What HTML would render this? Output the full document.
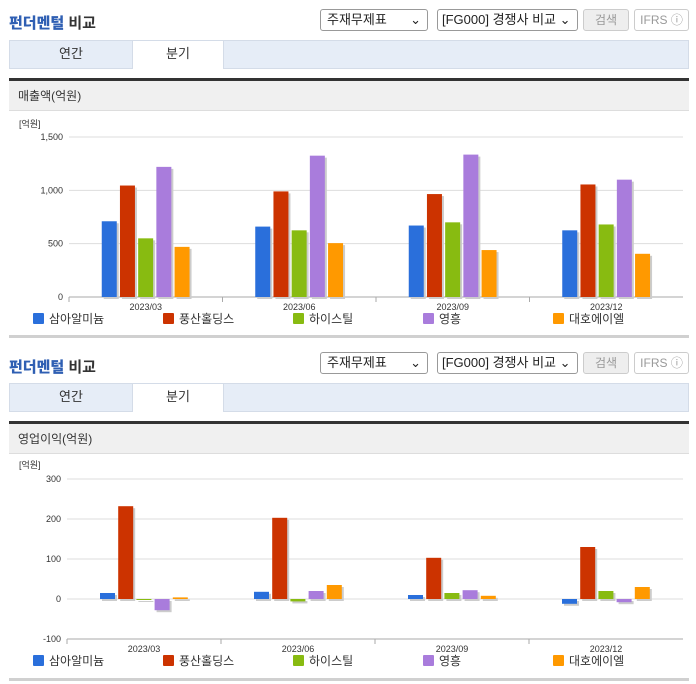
<!DOCTYPE html>
<html><head><meta charset="utf-8"><style>
body{margin:0;width:696px;height:684px;background:#fff;font-family:"Liberation Sans","Noto Sans CJK KR",sans-serif;position:relative;overflow:hidden}
.abs{position:absolute}
.title{left:9px;font-size:15px;color:#333;font-weight:bold}
.title b{color:#2f5fb3}
.sel{height:22px;border:1px solid #999;border-radius:3px;font-size:13px;color:#222;background:#fff;box-sizing:border-box;padding:2px 6px;line-height:16px}
.btn{height:22px;border:1px solid #ccc;border-radius:3px;font-size:12px;color:#999;background:#eee;box-sizing:border-box;text-align:center;line-height:20px}
.tabs{left:9px;width:680px;height:29px;background:#e6edf7;border:1px solid #d4dce8;box-sizing:border-box}
.tab{top:0;height:28px;font-size:13px;color:#333;text-align:center;line-height:26px}
.dark{left:9px;width:680px;height:3px;background:#333}
.hdr{left:9px;width:680px;height:30px;background:#f0f0f0;border-bottom:1px solid #ddd;font-size:12px;color:#333;line-height:30px;padding-left:9px;box-sizing:border-box}
.bottom{left:9px;width:680px;height:3px;background:#d0d0d0}
</style></head><body>
<div>
<div class="abs title" style="top:12px"><b>펀더멘털</b> 비교</div>
<div class="abs sel" style="left:320px;top:9px;width:108px">주재무제표 <span style="float:right">⌄</span></div>
<div class="abs sel" style="left:437px;top:9px;width:141px;padding:2px 4px">[FG000] 경쟁사 비교 ⌄</div>
<div class="abs btn" style="left:583px;top:9px;width:46px">검색</div>
<div class="abs btn" style="left:634px;top:9px;width:55px;background:#fff">IFRS ⓘ</div>
<div class="abs tabs" style="top:40px">
<div class="abs tab" style="left:0;width:122px">연간</div>
<div class="abs tab" style="left:122px;width:90px;background:#fff;border-left:1px solid #d4dce8;border-right:1px solid #d4dce8">분기</div>
</div>
<div class="abs dark" style="top:78px"></div>
<div class="abs hdr" style="top:81px">매출액(억원)</div>
<svg class="abs" id="c1" style="left:0;top:0" width="696" height="684"></svg>
<div class="abs bottom" style="top:335px"></div>
</div>
<div>
<div class="abs title" style="top:356px"><b>펀더멘털</b> 비교</div>
<div class="abs sel" style="left:320px;top:352px;width:108px">주재무제표 <span style="float:right">⌄</span></div>
<div class="abs sel" style="left:437px;top:352px;width:141px;padding:2px 4px">[FG000] 경쟁사 비교 ⌄</div>
<div class="abs btn" style="left:583px;top:352px;width:46px">검색</div>
<div class="abs btn" style="left:634px;top:352px;width:55px;background:#fff">IFRS ⓘ</div>
<div class="abs tabs" style="top:383px">
<div class="abs tab" style="left:0;width:122px">연간</div>
<div class="abs tab" style="left:122px;width:90px;background:#fff;border-left:1px solid #d4dce8;border-right:1px solid #d4dce8">분기</div>
</div>
<div class="abs dark" style="top:421px"></div>
<div class="abs hdr" style="top:424px">영업이익(억원)</div>
<svg class="abs" id="c2" style="left:0;top:0" width="696" height="684"></svg>
<div class="abs bottom" style="top:678px"></div>
</div>
<script>
const categories=["2023/03","2023/06","2023/09","2023/12"];
const seriesNames=["삼아알미늄","풍산홀딩스","하이스틸","영흥","대호에이엘"];
const colors=["#2a6fdb","#cc3300","#88bb11","#a97cdc","#ff9900"];
const sales1=[710,660,670,625];
const sales2=[1045,990,965,1055];
const sales3=[550,625,700,680];
const sales4=[1220,1325,1335,1100];
const sales5=[470,505,440,405];
const salesTicks=[0,500,1000,1500];
const salesTickLabels=["0","500","1,000","1,500"];
const op1=[15,18,10,-12];
const op2=[232,203,103,130];
const op3=[0,-6,15,20];
const op4=[-28,20,22,-8];
const op5=[4,35,8,30];
const opTicks=[-100,0,100,200,300];
const opTickLabels=["-100","0","100","200","300"];
const NS="http://www.w3.org/2000/svg";
function mk(svg,t,a,txt){const e=document.createElementNS(NS,t);for(const k in a)e.setAttribute(k,a[k]);if(txt!=null)e.textContent=txt;svg.appendChild(e);return e;}
function draw(id,series,ticks,labels,min,max,top,bot,x0,x1,unitY,legY){
 const svg=document.getElementById(id);
 const y=v=>bot-(v-min)/(max-min)*(bot-top);
 const gw=(x1-x0)/categories.length;
 const t=mk(svg,'text',{x:19,y:unitY,'font-size':9,fill:'#333'},'[억원]');
 
 ticks.forEach((v,i)=>{
  const l=mk(svg,'line',{x1:x0,x2:x1,y1:y(v),y2:y(v),stroke:'#ddd','stroke-width':1});
  
  const tx=mk(svg,'text',{x:x0-6,y:y(v)+3,'font-size':9,fill:'#333','text-anchor':'end'},labels[i]);
  
 });
 const ax=mk(svg,'line',{x1:x0,x2:x1,y1:bot,y2:bot,stroke:'#aaa'});
 
 categories.forEach((c,ci)=>{
  const gx=x0+gw*ci, cx=gx+gw/2;
  const tk=mk(svg,'line',{x1:gx,x2:gx,y1:bot,y2:bot+5,stroke:'#aaa'});
  
  const lb=mk(svg,'text',{x:cx,y:bot+13,'font-size':9,fill:'#333','text-anchor':'middle'},c);
  
  series.forEach((s,si)=>{
   const bx=cx-44+si*18.2, v=s[ci];
   const ya=Math.min(y(v),y(0)), h=Math.max(Math.abs(y(v)-y(0)),1);
   const sh=mk(svg,'rect',{x:bx+2,y:ya+2,width:15,height:h,fill:'#ccc'});
   
   const r=mk(svg,'rect',{x:bx,y:ya,width:15,height:h,fill:colors[si]});
   
  });
 });
 const lx=[33,163,293,423,553];
 seriesNames.forEach((n,i)=>{
  const r=mk(svg,'rect',{x:lx[i],y:legY-9,width:11,height:11,fill:colors[i],rx:1});
  
  const tx=mk(svg,'text',{x:lx[i]+16,y:legY+1,'font-size':12,fill:'#333'},n);
  
 });
}
draw('c1',[sales1,sales2,sales3,sales4,sales5],salesTicks,salesTickLabels,0,1500,137,297,69,683,127,322);
draw('c2',[op1,op2,op3,op4,op5],opTicks,opTickLabels,-100,300,479,639,67,683,468,664);
</script>
</body></html>
